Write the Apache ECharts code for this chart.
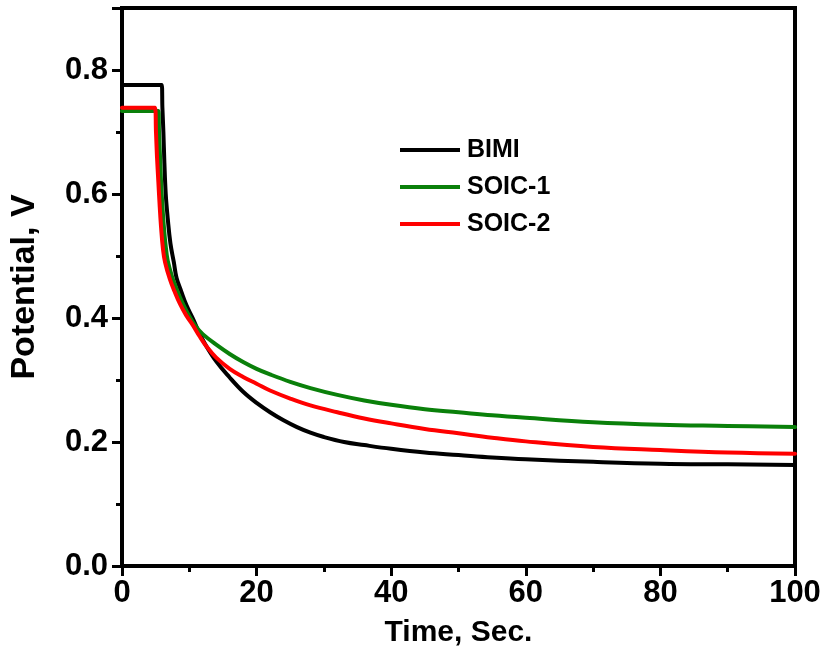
<!DOCTYPE html>
<html>
<head>
<meta charset="utf-8">
<script src="https://cdn.jsdelivr.net/npm/echarts@6/dist/echarts.min.js"></script>
<style>html,body{margin:0;padding:0;background:#fff}#c{width:829px;height:664px}</style>
</head>
<body>
<div id="c"></div>
<script>
const seriesNames = ['BIMI', 'SOIC-1', 'SOIC-2'];
const bimiTime = [0, 5.9, 6.0, 6.15, 6.3, 6.5, 6.8, 7.2, 7.7, 8.1, 8.8, 9.6, 10.5, 11.4, 12.3, 14, 16, 18, 20, 22, 24, 26, 28, 30, 33, 36, 40, 45, 50, 55, 60, 70, 80, 90, 100];
const bimiV    = [0.776, 0.776, 0.74, 0.70, 0.65, 0.60, 0.56, 0.52, 0.49, 0.465, 0.443, 0.42, 0.40, 0.378, 0.359, 0.330, 0.304, 0.281, 0.263, 0.248, 0.235, 0.224, 0.215, 0.208, 0.200, 0.195, 0.189, 0.183, 0.179, 0.175, 0.172, 0.168, 0.165, 0.164, 0.163];
const soic1Time = [0, 5.4, 5.5, 5.65, 5.8, 5.95, 6.2, 6.5, 6.8, 7.4, 8.1, 9.0, 10, 11, 12, 14, 16, 18, 20, 22, 25, 28, 32, 36, 40, 45, 50, 55, 60, 70, 80, 90, 100];
const soic1V    = [0.734, 0.734, 0.70, 0.66, 0.62, 0.59, 0.55, 0.515, 0.492, 0.468, 0.447, 0.424, 0.403, 0.386, 0.374, 0.357, 0.342, 0.329, 0.318, 0.309, 0.297, 0.287, 0.276, 0.267, 0.260, 0.253, 0.248, 0.243, 0.239, 0.232, 0.228, 0.226, 0.224];
const soic2Time = [0, 4.9, 5.05, 5.2, 5.4, 5.55, 5.8, 6.1, 6.4, 7.1, 7.8, 8.6, 9.5, 10.5, 11.5, 12.5, 14, 16, 18, 20, 22, 25, 28, 32, 36, 40, 45, 50, 55, 60, 70, 80, 90, 100];
const soic2V    = [0.739, 0.739, 0.70, 0.66, 0.62, 0.59, 0.547, 0.51, 0.49, 0.463, 0.443, 0.423, 0.405, 0.389, 0.371, 0.355, 0.336, 0.318, 0.305, 0.294, 0.283, 0.270, 0.259, 0.248, 0.238, 0.230, 0.221, 0.214, 0.207, 0.201, 0.192, 0.187, 0.183, 0.181];
const colors = ['#000000', '#0a800a', '#ff0000'];

function pairs(t, v) { return t.map((x, i) => [x, v[i]]); }

const chart = echarts.init(document.getElementById('c'), null, {renderer: 'canvas'});
const fontMain = 'Liberation Sans, Arial, sans-serif';
function mkSeries(i, t, v) {
  return {name: seriesNames[i], type: 'line', data: pairs(t, v), showSymbol: false,
    smooth: 0.4, color: colors[i],
    lineStyle: {width: 4, color: colors[i], join: 'round', cap: 'round'}};
}
chart.setOption({
  animation: false,
  backgroundColor: '#fff',
  grid: {left: 120, right: 34, top: 8, bottom: 98, show: true, borderColor: '#000', borderWidth: 4, backgroundColor: 'transparent'},
  legend: {
    orient: 'vertical', left: 400, top: 137, padding: 0, itemWidth: 60, itemHeight: 4, itemGap: 11, icon: 'rect',
    data: seriesNames,
    textStyle: {fontFamily: fontMain, fontWeight: 'bold', fontSize: 25, color: '#000', lineHeight: 26, padding: [0, 0, 0, 2]}
  },
  xAxis: {
    type: 'value', min: 0, max: 100, interval: 20,
    name: 'Time, Sec.', nameLocation: 'middle', nameGap: 52,
    nameTextStyle: {fontFamily: fontMain, fontWeight: 'bold', fontSize: 30, color: '#000'},
    axisLine: {show: true, lineStyle: {color: '#000', width: 4}},
    axisTick: {show: true, inside: false, length: 10, lineStyle: {color: '#000', width: 3}},
    minorTick: {show: true, splitNumber: 2, length: 6, lineStyle: {color: '#000', width: 3}},
    splitLine: {show: false},
    axisLabel: {fontFamily: fontMain, fontWeight: 'bold', fontSize: 31, color: '#000', margin: 12}
  },
  yAxis: [{
    type: 'value', min: 0, max: 0.9, interval: 0.2,
    name: 'Potential, V', nameLocation: 'middle', nameGap: 80,
    nameTextStyle: {fontFamily: fontMain, fontWeight: 'bold', fontSize: 34, color: '#000'},
    axisLine: {show: true, lineStyle: {color: '#000', width: 4}},
    axisTick: {show: true, inside: false, length: 10, lineStyle: {color: '#000', width: 3}},
    splitLine: {show: false},
    axisLabel: {fontFamily: fontMain, fontWeight: 'bold', fontSize: 31, color: '#000', margin: 14,
      formatter: v => (v > 0.85 ? '' : v.toFixed(1))}
  }, {
    type: 'value', min: 0, max: 0.9, interval: 0.1, position: 'left',
    axisLine: {show: false},
    axisTick: {show: true, inside: false, length: 6, lineStyle: {color: '#000', width: 3}},
    splitLine: {show: false},
    axisLabel: {show: false}
  }],
  series: [
    mkSeries(0, bimiTime, bimiV),
    mkSeries(1, soic1Time, soic1V),
    mkSeries(2, soic2Time, soic2V)
  ]
});
</script>
</body>
</html>
